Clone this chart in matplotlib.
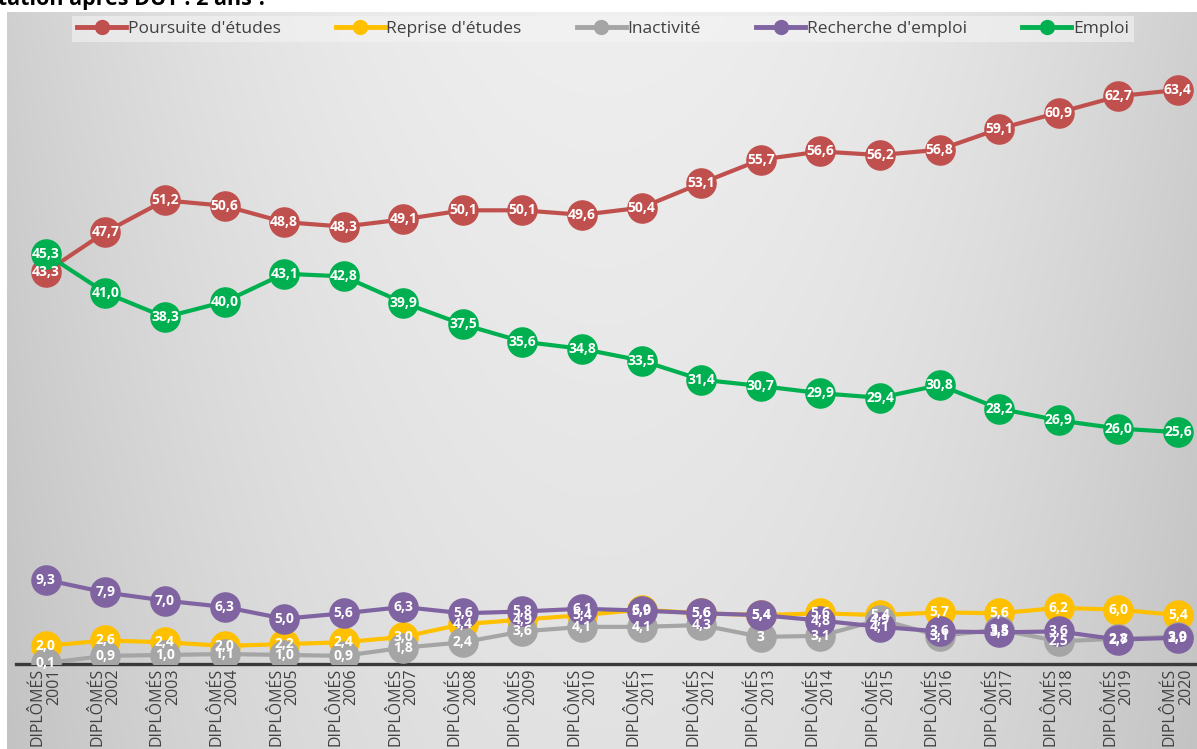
import numpy as np
import matplotlib
matplotlib.use("Agg")
import matplotlib.pyplot as plt
from matplotlib.lines import Line2D

plt.rcParams['font.family'] = ['Open Sans', 'DejaVu Sans']

# ---------------- data ----------------
years = list(range(2001, 2021))
categories = [f"DIPLÔMÉS\n{y}" for y in years]

poursuite = [43.3, 47.7, 51.2, 50.6, 48.8, 48.3, 49.1, 50.1, 50.1, 49.6,
             50.4, 53.1, 55.7, 56.6, 56.2, 56.8, 59.1, 60.9, 62.7, 63.4]
reprise = [2.0, 2.6, 2.4, 2.0, 2.2, 2.4, 3.0, 4.4, 4.9, 5.4,
           6.0, 5.6, 5.4, 5.6, 5.4, 5.7, 5.6, 6.2, 6.0, 5.4]
inactivite = [0.1, 0.9, 1.0, 1.1, 1.0, 0.9, 1.8, 2.4, 3.6, 4.1,
              4.1, 4.3, 3, 3.1, 4.9, 3.1, 3.8, 2.5, 2.8, 3.0]
recherche = [9.3, 7.9, 7.0, 6.3, 5.0, 5.6, 6.3, 5.6, 5.8, 6.1,
             5.9, 5.6, 5.4, 4.8, 4.1, 3.6, 3.5, 3.6, 2.7, 2.9]
emploi = [45.3, 41.0, 38.3, 40.0, 43.1, 42.8, 39.9, 37.5, 35.6, 34.8,
          33.5, 31.4, 30.7, 29.9, 29.4, 30.8, 28.2, 26.9, 26.0, 25.6]

series_names = ["Poursuite d'études", "Reprise d'études", "Inactivité",
                "Recherche d'emploi", "Emploi"]
series_values = [poursuite, reprise, inactivite, recherche, emploi]
series_colors = ["#C0504D", "#FFC000", "#A5A5A5", "#8064A2", "#00B050"]

title = "Quelle orientation après DUT : 2 ans ?"

# ---------------- figure ----------------
W, H = 1197, 749
fig = plt.figure(figsize=(W / 100, H / 100), dpi=100)
fig.patch.set_facecolor("white")


def px(x0, y0, x1, y1):
    return [x0 / W, 1 - y1 / H, (x1 - x0) / W, (y1 - y0) / H]


# gradient background panel
bg = fig.add_axes(px(7, 12, W, H))
gx = np.linspace(0, 1, 400)
gy = np.linspace(0, 1, 250)
X, Y = np.meshgrid(gx, gy)
b = 0.935 - 0.12 * np.abs(2 * X - 1.0) ** 2 - 0.05 * Y
b = np.clip(b, 0, 1)
bg.imshow(np.dstack([b, b, b]), aspect="auto", extent=[0, 1, 0, 1], origin="upper")
bg.set_axis_off()

# title (partly cut by the top edge)
fig.text(268 / W, 1 - 5 / H, title, ha="right", va="baseline",
         fontsize=15.5, fontweight="bold", color="black")

# main axes
ax = fig.add_axes(px(16, 12, W, 664))
ax.set_facecolor("none")
x = np.arange(len(years))

for i, (name, vals, col) in enumerate(zip(series_names, series_values, series_colors)):
    ax.plot(x, vals, color=col, lw=3, marker="o", ms=21, mec=col, mfc=col,
            zorder=3 + i, solid_capstyle="round")

for i, (vals, col) in enumerate(zip(series_values, series_colors)):
    for xi, v in zip(x, vals):
        lab = str(v) if isinstance(v, int) else f"{v:.1f}".replace(".", ",")
        ax.text(xi, v, lab, ha="center", va="center", color="white",
                fontsize=10, fontweight="bold", zorder=20 + i)

ax.set_xlim(-0.5, 19.32)
ax.set_ylim(0, 72.0)
for s in ["top", "right", "left"]:
    ax.spines[s].set_visible(False)
ax.spines["bottom"].set_color("#3a3a3a")
ax.spines["bottom"].set_linewidth(2.4)
ax.set_yticks([])
ax.set_xticks(x)
ax.set_xticklabels(categories, rotation=90, ha="center", va="top",
                   multialignment="right", fontsize=11.5, color="#404040",
                   linespacing=1.0)
ax.tick_params(axis="x", length=0, pad=3)

# legend
handles = [Line2D([0], [0], color=c, lw=3.5, marker="o", ms=10, mfc=c, mec=c)
           for c in series_colors]
leg = fig.legend(handles, series_names, loc="center",
                 bbox_to_anchor=(603 / W, 1 - 29 / H), ncol=5,
                 frameon=True, fontsize=12.5, handlelength=2.8,
                 handletextpad=0.1, columnspacing=3.2, borderpad=0.3,
                 labelcolor="#404040")
leg.get_frame().set_facecolor("#f4f4f4")
leg.get_frame().set_alpha(0.6)
leg.get_frame().set_edgecolor("none")
leg.get_frame().set_boxstyle("square", pad=0)

fig.savefig("out.png", dpi=100)
